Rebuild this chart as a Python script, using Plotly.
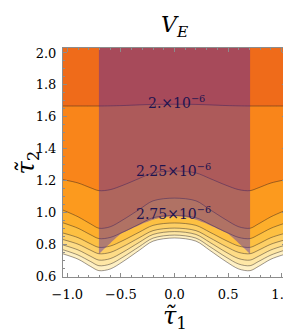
import plotly.graph_objects as go

# tau1 sample positions where contour heights were read
tau1 = [-1.04, -0.9, -0.78, -0.705, -0.6, -0.48, -0.33, -0.2, 0.0,
        0.2, 0.33, 0.48, 0.6, 0.705, 0.78, 0.9, 1.04]

# contour levels (×10^-6) and the tau2 height of each contour line
levels = [2.0, 2.25, 2.5, 2.75, 3.0, 3.25, 3.5, 3.75, 4.0]
c_200 = [1.667, 1.667, 1.667, 1.667, 1.668, 1.670, 1.674, 1.677, 1.678,
         1.677, 1.674, 1.670, 1.668, 1.667, 1.667, 1.667, 1.667]
c_225 = [1.205, 1.184, 1.153, 1.136, 1.142, 1.170, 1.212, 1.247, 1.259,
         1.247, 1.212, 1.170, 1.142, 1.136, 1.153, 1.184, 1.205]
c_250 = [1.014, 0.972, 0.926, 0.900, 0.909, 0.953, 1.017, 1.072, 1.089,
         1.072, 1.017, 0.953, 0.909, 0.900, 0.926, 0.972, 1.014]
c_275 = [0.934, 0.900, 0.858, 0.835, 0.842, 0.876, 0.925, 0.966, 0.980,
         0.966, 0.925, 0.876, 0.842, 0.835, 0.858, 0.900, 0.934]
c_300 = [0.870, 0.841, 0.801, 0.780, 0.788, 0.823, 0.875, 0.918, 0.933,
         0.918, 0.875, 0.823, 0.788, 0.780, 0.801, 0.841, 0.870]
c_325 = [0.829, 0.800, 0.761, 0.740, 0.748, 0.785, 0.840, 0.885, 0.901,
         0.885, 0.840, 0.785, 0.748, 0.740, 0.761, 0.800, 0.829]
c_350 = [0.795, 0.764, 0.723, 0.700, 0.709, 0.750, 0.811, 0.861, 0.879,
         0.861, 0.811, 0.750, 0.709, 0.700, 0.723, 0.764, 0.795]
c_375 = [0.765, 0.732, 0.690, 0.665, 0.675, 0.719, 0.784, 0.838, 0.857,
         0.838, 0.784, 0.719, 0.675, 0.665, 0.690, 0.732, 0.765]
c_400 = [0.739, 0.706, 0.659, 0.634, 0.644, 0.691, 0.761, 0.819, 0.839,
         0.819, 0.761, 0.691, 0.644, 0.634, 0.659, 0.706, 0.739]
contours = [c_200, c_225, c_250, c_275, c_300, c_325, c_350, c_375, c_400]

# band colours: top band (above first line), then band below each line
top_color = "#EF6B1A"
band_colors = ["#F9851A", "#FC9A1E", "#FDAE2B", "#FDC042", "#FDCF65",
               "#FEDC86", "#FEE7A6", "#FEF0C4", "#FFFFFF"]

# shaded region boundary (lower edge), |tau1| <= 0.705
reg_x = [-0.705, -0.65, -0.6, -0.5, -0.4, -0.3, -0.2, -0.1, 0.0,
         0.1, 0.2, 0.3, 0.4, 0.5, 0.6, 0.65, 0.705]
reg_y = [0.738, 0.775, 0.805, 0.865, 0.897, 0.928, 0.953, 0.970, 0.975,
         0.970, 0.953, 0.928, 0.897, 0.865, 0.805, 0.775, 0.738]
reg_top = 2.2

labels = [(0.02, 1.690, "2.×10<sup>−6</sup>"),
          (-0.01, 1.266, "2.25×10<sup>−6</sup>"),
          (-0.01, 0.995, "2.75×10<sup>−6</sup>")]

serif = "DejaVu Serif"
fig = go.Figure()

for ys, fc in zip(contours, band_colors):
    fig.add_trace(go.Scatter(
        x=tau1, y=ys, mode="lines", fill="tozeroy", fillcolor=fc,
        line=dict(color="rgba(40,30,30,0.45)", width=1, shape="spline", smoothing=0.9),
        hoverinfo="skip", showlegend=False))

fig.add_trace(go.Scatter(x=reg_x, y=reg_y, mode="lines",
                         line=dict(width=0, shape="spline", smoothing=0.6),
                         hoverinfo="skip", showlegend=False))
fig.add_trace(go.Scatter(x=[reg_x[0], reg_x[-1]], y=[reg_top, reg_top], mode="lines",
                         fill="tonexty", fillcolor="rgba(60,25,188,0.4)",
                         line=dict(width=0), hoverinfo="skip", showlegend=False))

for lx, ly, txt in labels:
    fig.add_annotation(x=lx, y=ly, text=txt, showarrow=False,
                       font=dict(family=serif, size=14, color="#1E1450"),
                       xanchor="center", yanchor="middle")

# title and axis labels
fig.add_annotation(xref="paper", yref="paper", x=0.5, y=1.0, yshift=5,
                   text="<i>V<sub>E</sub></i>", showarrow=False,
                   font=dict(family=serif, size=22, color="black"),
                   xanchor="center", yanchor="bottom")
fig.add_annotation(xref="paper", yref="paper", x=0.5, y=0, yshift=-40,
                   text="<i>τ̃</i><sub>1</sub>", showarrow=False,
                   font=dict(family=serif, size=24, color="black"),
                   xanchor="center", yanchor="middle")
fig.add_annotation(xref="paper", yref="paper", x=0, xshift=-36, y=0.5,
                   text="<i>τ̃</i><sub>2</sub>", showarrow=False, textangle=-90,
                   font=dict(family=serif, size=24, color="black"),
                   xanchor="center", yanchor="middle")

axis_common = dict(showline=True, linecolor="#8C8C8C", linewidth=1, mirror="allticks",
                   ticks="inside", ticklen=4, tickcolor="#8C8C8C", showgrid=False,
                   zeroline=False, tickfont=dict(family=serif, size=13, color="black"),
                   tickformat=".1f")
fig.update_xaxes(range=[-1.04, 1.04], dtick=0.5, tick0=0,
                 minor=dict(dtick=0.1, ticks="inside", ticklen=2, tickcolor="#8C8C8C"),
                 ticklabelstandoff=5, **axis_common)
fig.update_yaxes(range=[0.594, 2.031], dtick=0.2, tick0=0,
                 minor=dict(dtick=0.05, ticks="inside", ticklen=2, tickcolor="#8C8C8C"),
                 ticklabelstandoff=3, **axis_common)

fig.update_layout(width=291, height=332, margin=dict(l=55, r=7, t=40, b=63),
                  plot_bgcolor=top_color, paper_bgcolor="white",
                  font=dict(family=serif))

fig.write_html("out.html")
